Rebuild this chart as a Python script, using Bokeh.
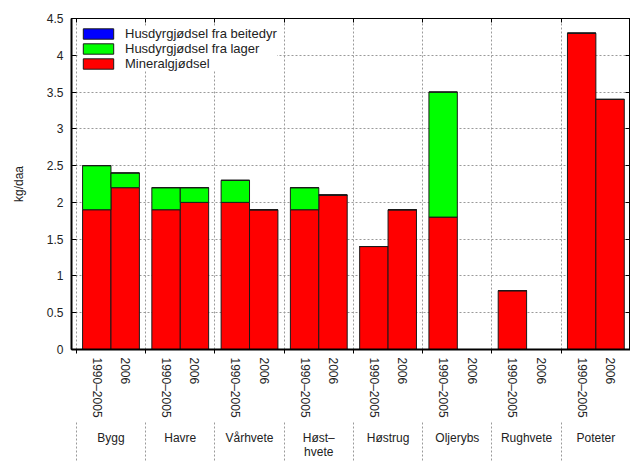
from bokeh.plotting import figure
from bokeh.models import (LinearAxis, FixedTicker, Grid, Range1d, ColumnDataSource,
                          Legend, LegendItem)
from bokeh.embed import file_html
from bokeh.resources import INLINE

# === Data ===
crops = ["Bygg", "Havre", "Vårhvete", "Høst–\nhvete", "Høstrug", "Oljerybs", "Rughvete", "Poteter"]
periods = ["1990–2005", "2006"]

mineral_9005 = [1.9, 1.9, 2.0, 1.9, 1.4, 1.8, 0.8, 4.3]
mineral_2006 = [2.2, 2.0, 1.9, 2.1, 1.9, 0.0, 0.0, 3.4]
lager_9005 = [0.6, 0.3, 0.3, 0.3, 0.0, 1.7, 0.0, 0.0]
lager_2006 = [0.2, 0.2, 0.0, 0.0, 0.0, 0.0, 0.0, 0.0]
beite_9005 = [0.0, 0.0, 0.0, 0.0, 0.0, 0.0, 0.0, 0.0]
beite_2006 = [0.0, 0.0, 0.0, 0.0, 0.0, 0.0, 0.0, 0.0]

y_ticks = [0, 0.5, 1, 1.5, 2, 2.5, 3, 3.5, 4, 4.5]
y_tick_labels = ["0", "0.5", "1", "1.5", "2", "2.5", "3", "3.5", "4", "4.5"]

series_names = ["Mineralgjødsel", "Husdyrgjødsel fra lager", "Husdyrgjødsel fra beitedyr"]

# === Styles ===
RED = "#ff0000"
GREEN = "#00ff00"
BLUE = "#0000ff"
EDGE = "#1a1a1a"
TXT = "#222222"
GRID = "#9a9a9a"
FONT = "Liberation Sans"
BAR_W = 0.41

# ---------- build bar table ----------
xs, labels, mineral, lager, beite = [], [], [], [], []
per_period = [(mineral_9005, lager_9005, beite_9005), (mineral_2006, lager_2006, beite_2006)]
for i in range(len(crops)):
    for j, per in enumerate(periods):
        xs.append(i + 0.5 + (j - 0.5) * BAR_W)
        labels.append(per)
        mineral.append(per_period[j][0][i])
        lager.append(per_period[j][1][i])
        beite.append(per_period[j][2][i])

source = ColumnDataSource(dict(x=xs, mineral=mineral, lager=lager, beite=beite))
bounds = list(range(len(crops) + 1))
centers = [i + 0.5 for i in range(len(crops))]

p = figure(width=630, height=461, x_range=Range1d(-0.07, 8.0), y_range=Range1d(0, 4.5),
           x_axis_type=None, y_axis_type=None, toolbar_location=None,
           output_backend="svg", min_border_left=71, min_border_right=0,
           min_border_top=18, min_border_bottom=0)
p.outline_line_color = "black"
p.outline_line_width = 1

# ---------- grids ----------
p.add_layout(Grid(dimension=0, ticker=FixedTicker(ticks=bounds),
                  grid_line_color=GRID, grid_line_dash="2 2"))
p.add_layout(Grid(dimension=1, ticker=FixedTicker(ticks=y_ticks[1:-1]),
                  grid_line_color=GRID, grid_line_dash="2 2"))

# ---------- bars ----------
rs = p.vbar_stack(["mineral", "lager", "beite"], x="x", width=BAR_W, source=source,
                  color=[RED, GREEN, BLUE], line_color=EDGE, line_width=1)
for r, c in zip(rs, [RED, GREEN, BLUE]):
    r.glyph.fill_color = c
    r.glyph.line_color = EDGE

legend = Legend(items=[LegendItem(label=series_names[2], renderers=[rs[2]]),
                       LegendItem(label=series_names[1], renderers=[rs[1]]),
                       LegendItem(label=series_names[0], renderers=[rs[0]])],
                location="top_left")
legend.glyph_width = 38
legend.glyph_height = 13
legend.label_height = 15
legend.label_text_font = FONT
legend.label_text_font_size = "13px"
legend.label_text_color = TXT
legend.label_standoff = 8
legend.spacing = 0
legend.padding = 7
legend.margin = 8
legend.border_line_color = None
legend.background_fill_color = "white"
legend.background_fill_alpha = 1.0
p.add_layout(legend)

# ---------- axes ----------
yax = LinearAxis(ticker=FixedTicker(ticks=y_ticks),
                 major_label_overrides=dict(zip(y_ticks, y_tick_labels)),
                 axis_label="kg/daa")
yax.axis_line_width = 2
yax.major_tick_in = 5
yax.major_tick_out = 0
yax.minor_tick_line_color = None
yax.major_label_standoff = 8
yax.major_label_text_font = FONT
yax.major_label_text_font_size = "12px"
yax.major_label_text_color = TXT
yax.axis_label_text_font = FONT
yax.axis_label_text_font_size = "12px"
yax.axis_label_text_font_style = "normal"
yax.axis_label_text_color = TXT
yax.axis_label_standoff = 18
p.add_layout(yax, "left")

yax_r = LinearAxis(ticker=FixedTicker(ticks=y_ticks))
yax_r.major_tick_in = 5
yax_r.major_tick_out = 0
yax_r.minor_tick_line_color = None
yax_r.major_label_text_font_size = "0px"
yax_r.major_label_text_color = None
yax_r.major_label_standoff = 0
p.add_layout(yax_r, "right")

top = LinearAxis(ticker=FixedTicker(ticks=bounds))
top.major_tick_in = 4
top.major_tick_out = 0
top.minor_tick_line_color = None
top.major_label_text_font_size = "0px"
top.major_label_text_color = None
top.major_label_standoff = 0
p.add_layout(top, "above")

year_ax = LinearAxis(ticker=FixedTicker(ticks=xs, minor_ticks=bounds),
                     major_label_overrides=dict(zip(xs, labels)))
year_ax.axis_line_width = 2
year_ax.major_tick_line_color = None
year_ax.major_tick_in = 0
year_ax.major_tick_out = 0
year_ax.minor_tick_in = 0
year_ax.minor_tick_out = 4
year_ax.minor_tick_line_color = "black"
year_ax.major_label_orientation = "vertical"
year_ax.major_label_standoff = 4
year_ax.major_label_text_font = FONT
year_ax.major_label_text_font_size = "12px"
year_ax.major_label_text_color = TXT
p.add_layout(year_ax, "below")

crop_ax = LinearAxis(ticker=FixedTicker(ticks=centers, minor_ticks=bounds),
                     major_label_overrides=dict(zip(centers, crops)))
crop_ax.axis_line_color = None
crop_ax.major_tick_line_color = None
crop_ax.major_tick_in = 0
crop_ax.major_tick_out = 0
crop_ax.minor_tick_in = 0
crop_ax.minor_tick_out = 40
crop_ax.minor_tick_line_color = GRID
crop_ax.minor_tick_line_dash = "2 2"
crop_ax.major_label_standoff = -30
crop_ax.major_label_text_font = FONT
crop_ax.major_label_text_font_size = "12px"
crop_ax.major_label_text_line_height = 1.0
crop_ax.major_label_text_color = TXT
p.add_layout(crop_ax, "below")

open("out.html", "w").write(file_html(p, INLINE))
